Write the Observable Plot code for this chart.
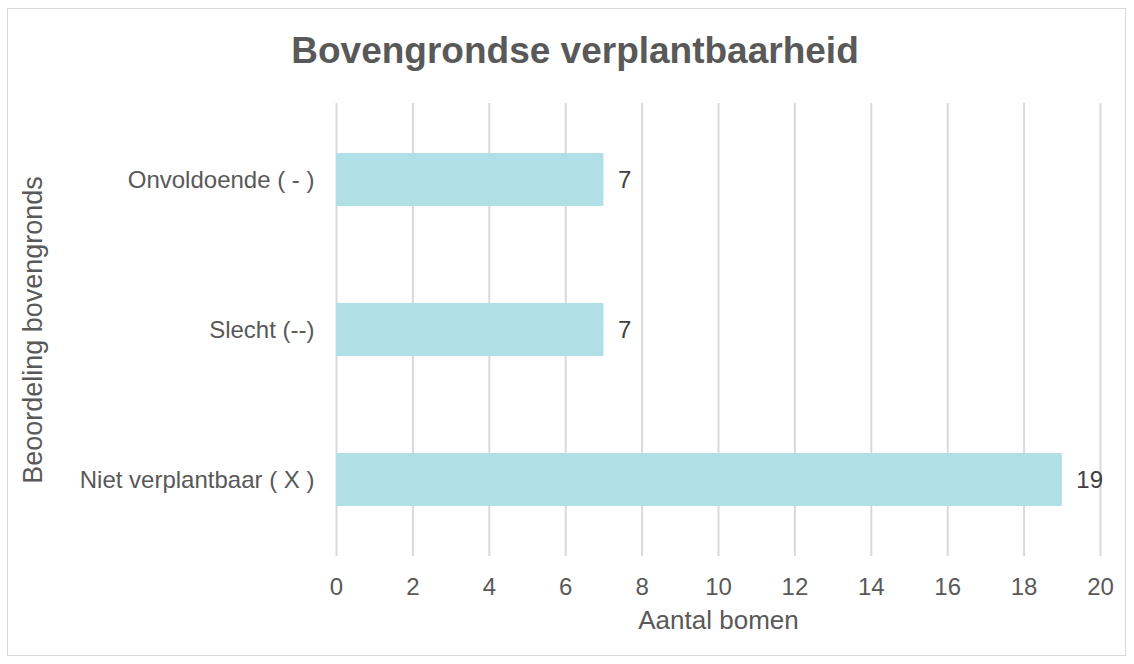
<!DOCTYPE html>
<html><head><meta charset="utf-8">
<script src="https://cdn.jsdelivr.net/npm/d3@7"></script>
<script src="https://cdn.jsdelivr.net/npm/@observablehq/plot@0.6"></script>
<style>
body{margin:0;background:#fff;font-family:"Liberation Sans",Arial,sans-serif;}
#wrap{position:relative;width:1134px;height:664px;}
#border{position:absolute;left:7px;top:8px;width:1119px;height:648px;border:1px solid #d9d9d9;box-sizing:border-box;}
#title{position:absolute;left:0;width:1150px;top:30px;text-align:center;font-size:37px;line-height:1.149;font-weight:bold;color:#595959;}
#chart{position:absolute;left:0;top:0;}
</style></head>
<body><div id="wrap"><div id="border"></div><div id="chart"></div><div id="title">Bovengrondse verplantbaarheid</div></div>
<script>
const categories = ["Onvoldoende ( - )", "Slecht (--)", "Niet verplantbaar ( X )"];
const values = [7, 7, 19];
const xTicks = [0,2,4,6,8,10,12,14,16,18,20];
const data = categories.map((c,i)=>({cat:c, val:values[i]}));
const chart = Plot.plot({
  width:1134, height:664,
  marginLeft:336, marginRight:34, marginTop:103, marginBottom:108,
  style:{fontFamily:"'Liberation Sans', Arial, sans-serif", fontSize:"24px", color:"#595959", background:"transparent"},
  x:{domain:[0,20], ticks:xTicks, label:null},
  y:{domain:categories, paddingInner:0.648, paddingOuter:0.33, label:null},
  marks:[
    Plot.gridX(xTicks,{stroke:"#d9d9d9", strokeOpacity:1, strokeWidth:2}),
    Plot.barX(data,{x:"val", y:"cat", fill:"#b0dfe5"}),
    Plot.text(data,{x:"val", y:"cat", text:d=>String(d.val), textAnchor:"start", dx:14, fontSize:24, fill:"#404040"}),
    Plot.axisX({ticks:xTicks, tickSize:0, tickPadding:21, fontSize:24, fill:"#595959"}),
    Plot.axisX({ticks:[], tickSize:0, fontSize:26, fill:"#595959", label:"Aantal bomen", labelAnchor:"center", labelArrow:"none", labelOffset:72}),
    Plot.axisY({tickSize:0, tickPadding:22, fontSize:24, fill:"#595959"}),
    Plot.axisY({ticks:[], tickSize:0, fontSize:27, fill:"#595959", label:"Beoordeling bovengronds", labelAnchor:"center", labelArrow:"none", labelOffset:314})
  ]
});
document.getElementById("chart").appendChild(chart);
</script></body></html>
